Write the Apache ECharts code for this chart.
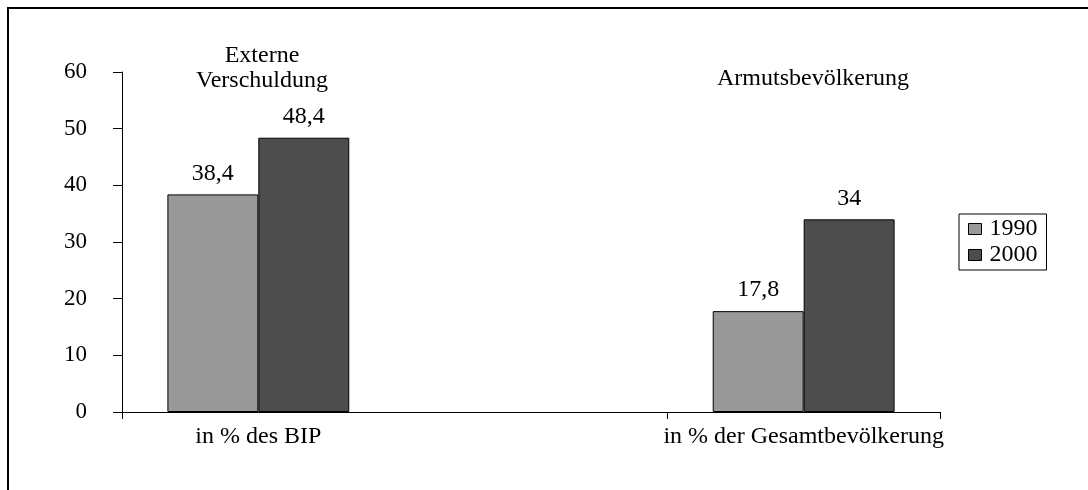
<!DOCTYPE html>
<html>
<head>
<meta charset="utf-8">
<script src="https://cdn.jsdelivr.net/npm/echarts@6/dist/echarts.min.js"></script>
<style>
html,body{margin:0;padding:0;background:#fff;}
#c{width:1088px;height:490px;}
</style>
</head>
<body>
<div id="c"></div>
<script>
const categories = ['in % des BIP', '', 'in % der Gesamtbevölkerung'];
const seriesNames = ['1990', '2000'];
const values1990 = [38.4, null, 17.8];
const values2000 = [48.4, null, 34];
const groupTitles = ['Externe\nVerschuldung', '', 'Armutsbevölkerung'];
const yTicks = [0, 10, 20, 30, 40, 50, 60];

const FONT = '"Liberation Serif", "DejaVu Serif", serif';
const FS = 24;
const chart = echarts.init(document.getElementById('c'), null, {renderer: 'canvas'});
const fmt = p => String(p.value).replace('.', ',');

const option = {
  backgroundColor: '#fff',
  animation: false,
  textStyle: {fontFamily: FONT},
  grid: {left: 122, right: 148, top: 72, bottom: 78, containLabel: false},
  xAxis: {
    type: 'category',
    data: categories,
    axisLine: {lineStyle: {color: '#000', width: 1}},
    axisTick: {show: true, length: 7, inside: false, lineStyle: {color: '#000'}},
    axisLabel: {color: '#000', fontSize: FS, fontFamily: FONT, margin: 13}
  },
  yAxis: {
    type: 'value',
    min: yTicks[0], max: yTicks[yTicks.length - 1], interval: 10,
    axisLine: {show: true, lineStyle: {color: '#000', width: 1}},
    axisTick: {show: true, length: 9, lineStyle: {color: '#000'}},
    axisLabel: {color: '#000', fontSize: 23, fontFamily: FONT, margin: 35},
    splitLine: {show: false}
  },
  legend: {
    orient: 'vertical',
    left: 959, top: 214,
    data: seriesNames,
    icon: 'rect',
    itemWidth: 13, itemHeight: 11,
    itemGap: 2,
    padding: [3, 9, 3, 9],
    borderColor: '#000', borderWidth: 1,
    backgroundColor: '#fff',
    itemStyle: {borderColor: '#000', borderWidth: 1},
    textStyle: {color: '#000', fontSize: FS, fontFamily: FONT, lineHeight: 24, padding: [0,0,0,3]}
  },
  title: [
    {text: groupTitles[0], left: 257, top: 38, textAlign: 'center',
     textStyle: {fontSize: FS, fontWeight: 'normal', color: '#000', fontFamily: FONT, lineHeight: 25}},
    {text: groupTitles[2], left: 808, top: 62, textAlign: 'center',
     textStyle: {fontSize: FS, fontWeight: 'normal', color: '#000', fontFamily: FONT}}
  ],
  graphic: [
    {type: 'rect', shape: {x: 8, y: 8, width: 1100, height: 600},
     style: {fill: 'none', stroke: '#000', lineWidth: 2}, silent: true, z: -10}
  ],
  series: [
    {name: seriesNames[0], type: 'bar', data: values1990,
     barGap: '0%', barCategoryGap: '33.3%',
     itemStyle: {color: '#999999', borderColor: '#000', borderWidth: 1},
     label: {show: true, position: 'top', distance: 9, color: '#000', fontSize: FS, fontFamily: FONT, formatter: fmt}},
    {name: seriesNames[1], type: 'bar', data: values2000,
     barGap: '0%', barCategoryGap: '33.3%',
     itemStyle: {color: '#4d4d4d', borderColor: '#000', borderWidth: 1},
     label: {show: true, position: 'top', distance: 9, color: '#000', fontSize: FS, fontFamily: FONT, formatter: fmt}}
  ]
};
chart.setOption(option);
</script>
</body>
</html>
